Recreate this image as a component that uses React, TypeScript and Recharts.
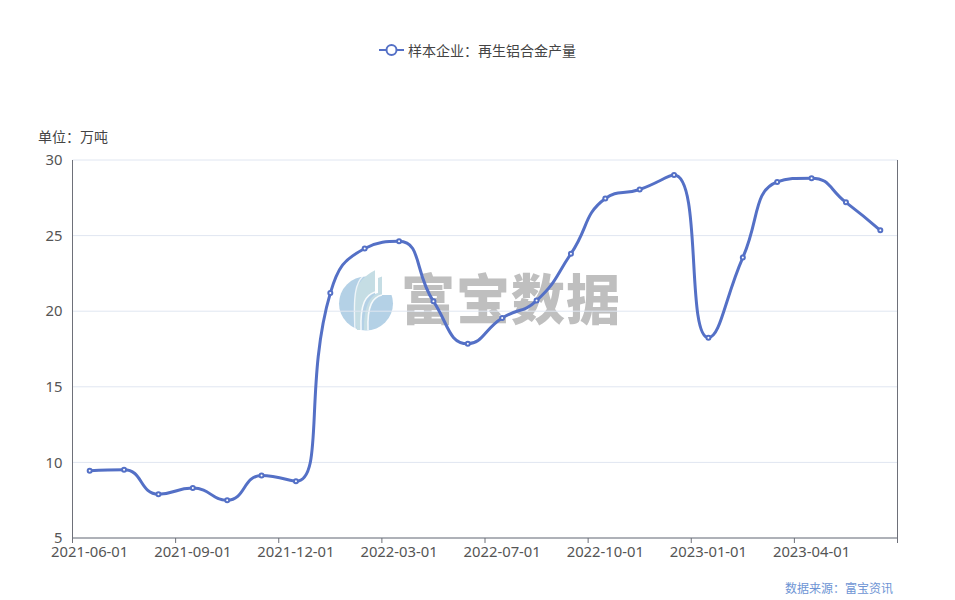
import React from "react";
import { LineChart, Line, XAxis, YAxis, CartesianGrid, Legend } from "recharts";

const SERIES_NAME = "样本企业：再生铝合金产量";
const UNIT_LABEL = "单位：万吨";
const SOURCE_LABEL = "数据来源：富宝资讯";
const WATERMARK = "富宝数据";

const months = [
  "2021-06-01", "2021-07-01", "2021-08-01", "2021-09-01", "2021-10-01", "2021-11-01",
  "2021-12-01", "2022-01-01", "2022-02-01", "2022-03-01", "2022-04-01", "2022-05-01",
  "2022-07-01", "2022-08-01", "2022-09-01", "2022-10-01", "2022-11-01", "2022-12-01",
  "2023-01-01", "2023-02-01", "2023-03-01", "2023-04-01", "2023-05-01", "2023-06-01",
];
const output = [
  9.45, 9.52, 7.9, 8.3, 7.5, 9.13, 8.75, 21.2, 24.15, 24.62, 20.65, 17.85,
  19.55, 20.7, 23.8, 27.45, 28.05, 29.0, 18.25, 23.55, 28.55, 28.8, 27.2, 25.35,
];
const yTicks = [5, 10, 15, 20, 25, 30];

const chartData = months.map((month, i) => ({ month, output: output[i] }));

const LINE_COLOR = "#5470c6";
const AXIS_COLOR = "#6e7079";
const TEXT_COLOR = "#555";
const FONT = '"Noto Sans", "Noto Sans CJK SC", sans-serif';
const CJK_FONT = '"Noto Sans CJK SC", sans-serif';
const BAND = 825 / months.length;

// same smoothing as the original chart's line (bezier handles clamped to the segment box)
function smoothCurve(ctx: any) {
  const smooth = 0.5;
  let pts: [number, number][] = [];
  return {
    areaStart() {},
    areaEnd() {},
    lineStart() {
      pts = [];
    },
    point(x: number, y: number) {
      pts.push([+x, +y]);
    },
    lineEnd() {
      if (!pts.length) return;
      ctx.moveTo(pts[0][0], pts[0][1]);
      let cp0x = pts[0][0];
      let cp0y = pts[0][1];
      const clamp = (v: number, a: number, b: number) =>
        Math.max(Math.min(v, Math.max(a, b)), Math.min(a, b));
      for (let i = 1; i < pts.length; i++) {
        const [px, py] = pts[i - 1];
        const [x, y] = pts[i];
        let cp1x = x;
        let cp1y = y;
        let nx = x;
        let ny = y;
        if (i < pts.length - 1) {
          const [qx, qy] = pts[i + 1];
          const vx = qx - px;
          const vy = qy - py;
          const lenPrev = Math.hypot(x - px, y - py);
          const lenNext = Math.hypot(qx - x, qy - y);
          const ratio = lenNext / (lenNext + lenPrev);
          nx = clamp(x + vx * smooth * ratio, qx, x);
          ny = clamp(y + vy * smooth * ratio, qy, y);
          cp1x = clamp(x - ((nx - x) * lenPrev) / lenNext, px, x);
          cp1y = clamp(y - ((ny - y) * lenPrev) / lenNext, py, y);
          nx = x + ((x - cp1x) * lenNext) / lenPrev;
          ny = y + ((y - cp1y) * lenNext) / lenPrev;
        }
        ctx.bezierCurveTo(cp0x, cp0y, cp1x, cp1y, x, y);
        cp0x = nx;
        cp0y = ny;
      }
    },
  };
}

const MonthTick = (props: any) => {
  const { x, y, index, payload } = props;
  const last = index === months.length - 1;
  if (index % 3 !== 0 && !last) return null;
  return (
    <g>
      {index % 3 === 0 && (
        <>
          <line x1={x - BAND / 2} x2={x - BAND / 2} y1={y - 8} y2={y - 3} stroke={AXIS_COLOR} />
          <text x={x} y={y + 11} textAnchor="middle" fontSize={14.8} fontFamily={FONT} fill={TEXT_COLOR}>
            {payload.value}
          </text>
        </>
      )}
      {last && <line x1={x + BAND / 2} x2={x + BAND / 2} y1={y - 8} y2={y - 3} stroke={AXIS_COLOR} />}
    </g>
  );
};

const LegendRow = () => (
  <div style={{ display: "flex", justifyContent: "center", alignItems: "center", fontFamily: CJK_FONT, fontSize: 14, lineHeight: "20px", color: "#444" }}>
    <svg width={25} height={14} style={{ marginRight: 4 }}>
      <line x1={0} x2={25} y1={7} y2={7} stroke={LINE_COLOR} strokeWidth={2} />
      <circle cx={12.5} cy={7} r={5} fill="#fff" stroke={LINE_COLOR} strokeWidth={2} />
    </svg>
    <span>{SERIES_NAME}</span>
  </div>
);

const Logo = () => (
  <svg width={56} height={62} viewBox="0 0 56 62" style={{ position: "absolute", left: 338, top: 269 }}>
    <circle cx={28} cy={34.5} r={27} fill="#b4d1e6" />
    <path d="M20 16 C25 9 31 4 37 1.3 L37 23 C29 26 23 32 22 61 L19 61 C15 44 15 28 20 16 Z" fill="#c5dde4" />
    <path d="M25 7 C18 14 15 24 17 61" fill="none" stroke="#fff" strokeOpacity={0.75} strokeWidth={1.4} />
    <path d="M40 9 L44 7.5 L44 26 C36 28 30 34 29 61 L26 61 C26 38 31 28 40 24 Z" fill="#c5dde4" />
    <path d="M37 23 C28 26 22 34 23 61" fill="none" stroke="#fff" strokeOpacity={0.85} strokeWidth={1.6} />
    <path d="M44 26 C35 28 29 36 30 61" fill="none" stroke="#fff" strokeOpacity={0.85} strokeWidth={1.6} />
    <path d="M37 1 L40 0 L40 24 L37 25 Z" fill="#fff" />
    <path d="M44 7 L56 7 L56 26 L44 26 Z" fill="#fff" />
  </svg>
);

export default function App() {
  return (
    <div style={{ position: "absolute", left: 0, top: 0, width: 955, height: 600, background: "#fff", overflow: "hidden" }}>
      <Logo />
      <div
        style={{
          position: "absolute",
          left: 401,
          top: 257,
          fontFamily: CJK_FONT,
          fontWeight: 900,
          fontSize: 54,
          lineHeight: "80px",
          letterSpacing: 1,
          color: "#bfbfbf",
          whiteSpace: "nowrap",
        }}
      >
        {WATERMARK}
      </div>
      <div style={{ position: "absolute", left: 38, top: 126, fontFamily: CJK_FONT, fontSize: 14, lineHeight: "20px", color: "#444" }}>
        {UNIT_LABEL}
      </div>
      <div style={{ position: "absolute", right: 62, top: 579, fontFamily: CJK_FONT, fontSize: 12, lineHeight: "18px", color: "#6d94d4" }}>
        {SOURCE_LABEL}
      </div>
      <div style={{ position: "absolute", left: 0, top: 0 }}>
        <LineChart width={955} height={600} data={chartData} margin={{ top: 140, right: 56.5, bottom: 32, left: 0 }}>
          <CartesianGrid vertical={false} stroke="#e0e6f1" />
          <XAxis
            dataKey="month"
            scale="band"
            interval={0}
            height={30}
            axisLine={{ stroke: AXIS_COLOR }}
            tickLine={false}
            tick={<MonthTick />}
          />
          <YAxis
            width={72.5}
            domain={[5, 30]}
            ticks={yTicks}
            interval={0}
            allowDataOverflow
            axisLine={{ stroke: AXIS_COLOR }}
            tickLine={false}
            tickMargin={4}
            tick={{ fontSize: 14.8, fontFamily: FONT, fill: TEXT_COLOR }}
          />
          <YAxis
            yAxisId="right"
            orientation="right"
            width={1}
            domain={[5, 30]}
            ticks={yTicks}
            axisLine={{ stroke: AXIS_COLOR }}
            tickLine={false}
            tick={false}
          />
          <Legend verticalAlign="top" content={<LegendRow />} wrapperStyle={{ top: 40, left: 0, width: 955 }} />
          <Line
            type={smoothCurve as any}
            dataKey="output"
            name={SERIES_NAME}
            stroke={LINE_COLOR}
            strokeWidth={3}
            dot={{ r: 2, fill: "#fff", stroke: LINE_COLOR, strokeWidth: 2, fillOpacity: 1 }}
            isAnimationActive={false}
          />
        </LineChart>
      </div>
    </div>
  );
}
